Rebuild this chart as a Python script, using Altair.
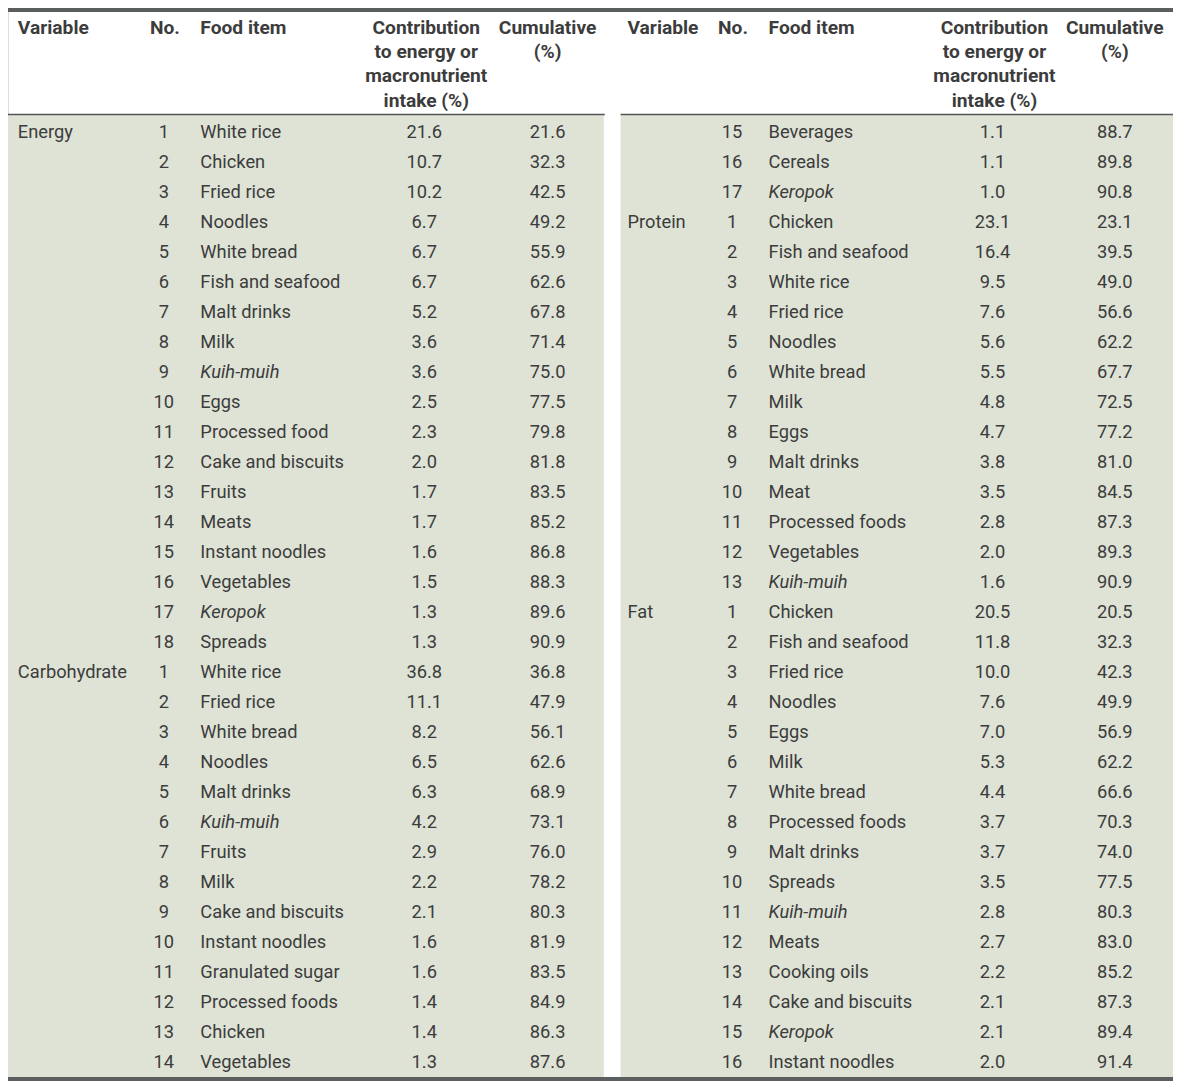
import altair as alt
import pandas as pd

# ---------------- data ----------------
left_var = ["Energy"] + [""] * 17 + ["Carbohydrate"] + [""] * 13
left_no = list(range(1, 19)) + list(range(1, 15))
left_food = ["White rice", "Chicken", "Fried rice", "Noodles", "White bread", "Fish and seafood",
             "Malt drinks", "Milk", "Kuih-muih", "Eggs", "Processed food", "Cake and biscuits",
             "Fruits", "Meats", "Instant noodles", "Vegetables", "Keropok", "Spreads",
             "White rice", "Fried rice", "White bread", "Noodles", "Malt drinks", "Kuih-muih",
             "Fruits", "Milk", "Cake and biscuits", "Instant noodles", "Granulated sugar",
             "Processed foods", "Chicken", "Vegetables"]
left_contrib = ["21.6", "10.7", "10.2", "6.7", "6.7", "6.7", "5.2", "3.6", "3.6", "2.5", "2.3", "2.0",
                "1.7", "1.7", "1.6", "1.5", "1.3", "1.3",
                "36.8", "11.1", "8.2", "6.5", "6.3", "4.2", "2.9", "2.2", "2.1", "1.6", "1.6", "1.4",
                "1.4", "1.3"]
left_cum = ["21.6", "32.3", "42.5", "49.2", "55.9", "62.6", "67.8", "71.4", "75.0", "77.5", "79.8",
            "81.8", "83.5", "85.2", "86.8", "88.3", "89.6", "90.9",
            "36.8", "47.9", "56.1", "62.6", "68.9", "73.1", "76.0", "78.2", "80.3", "81.9", "83.5",
            "84.9", "86.3", "87.6"]

right_var = [""] * 3 + ["Protein"] + [""] * 12 + ["Fat"] + [""] * 15
right_no = [15, 16, 17] + list(range(1, 14)) + list(range(1, 17))
right_food = ["Beverages", "Cereals", "Keropok",
              "Chicken", "Fish and seafood", "White rice", "Fried rice", "Noodles", "White bread",
              "Milk", "Eggs", "Malt drinks", "Meat", "Processed foods", "Vegetables", "Kuih-muih",
              "Chicken", "Fish and seafood", "Fried rice", "Noodles", "Eggs", "Milk", "White bread",
              "Processed foods", "Malt drinks", "Spreads", "Kuih-muih", "Meats", "Cooking oils",
              "Cake and biscuits", "Keropok", "Instant noodles"]
right_contrib = ["1.1", "1.1", "1.0",
                 "23.1", "16.4", "9.5", "7.6", "5.6", "5.5", "4.8", "4.7", "3.8", "3.5", "2.8", "2.0", "1.6",
                 "20.5", "11.8", "10.0", "7.6", "7.0", "5.3", "4.4", "3.7", "3.7", "3.5", "2.8", "2.7",
                 "2.2", "2.1", "2.1", "2.0"]
right_cum = ["88.7", "89.8", "90.8",
             "23.1", "39.5", "49.0", "56.6", "62.2", "67.7", "72.5", "77.2", "81.0", "84.5", "87.3",
             "89.3", "90.9",
             "20.5", "32.3", "42.3", "49.9", "56.9", "62.2", "66.6", "70.3", "74.0", "77.5", "80.3",
             "83.0", "85.2", "87.3", "89.4", "91.4"]

italic_items = ["Kuih-muih", "Keropok"]

header_left = ["Variable", "Food item"]
header_contrib = ["Contribution", "to energy or", "macronutrient", "intake (%)"]
header_cum = ["Cumulative", "(%)"]
header_no = ["No."]

# ---------------- layout (reference pixel frame) ----------------
W_REF, H_REF = 1181, 1089
W, H = 1165, 1073
COLS = {
    "L": dict(var=10, no=158, food=195, contrib=422, cum=547, x0=0, x1=604, r1=605),
    "R": dict(var=628, no=734, food=771, contrib=998, cum=1122, x0=621, x1=1181, r1=1181),
}
ROW0, ROW_H = 127, 30.45
HEAD0, HEAD_H = 20.5, 24.5
BODY_TOP, BODY_BOT = 108, 1085

TXT = "#3c3c3c"
BG = "#dee3d6"
DARK = "#5a5e5e"
FONT = "Roboto"
FS = 18.3
FS_HEAD = 19.2

rows = []
for panel, vv, nn, ff, cc, uu in [("L", left_var, left_no, left_food, left_contrib, left_cum),
                                  ("R", right_var, right_no, right_food, right_contrib, right_cum)]:
    c = COLS[panel]
    for i in range(len(ff)):
        rows.append(dict(panel=panel, y=ROW0 + i * ROW_H, variable=vv[i], no=str(nn[i]), food=ff[i],
                         contrib=cc[i], cum=uu[i], italic=ff[i] in italic_items,
                         xvar=c["var"], xno=c["no"], xfood=c["food"], xcon=c["contrib"], xcum=c["cum"]))
body = pd.DataFrame(rows)

head_rows_left, head_rows_center = [], []
for panel in ["L", "R"]:
    c = COLS[panel]
    head_rows_left.append(dict(x=c["var"], y=HEAD0, t=header_left[0]))
    head_rows_left.append(dict(x=c["food"], y=HEAD0, t=header_left[1]))
    head_rows_center.append(dict(x=c["no"] + 1, y=HEAD0, t=header_no[0]))
    for k, t in enumerate(header_contrib):
        head_rows_center.append(dict(x=c["contrib"] + 2, y=HEAD0 + k * HEAD_H, t=t))
    for k, t in enumerate(header_cum):
        head_rows_center.append(dict(x=c["cum"], y=HEAD0 + k * HEAD_H, t=t))
head_left = pd.DataFrame(head_rows_left)
head_center = pd.DataFrame(head_rows_center)

bg = pd.DataFrame([dict(x=COLS[p]["x0"], x2=COLS[p]["x1"], y=BODY_TOP, y2=BODY_BOT) for p in ["L", "R"]])
bars = pd.DataFrame([dict(x=0, x2=W_REF, y=0, y2=4), dict(x=0, x2=W_REF, y=BODY_BOT, y2=H_REF)])
rules = pd.DataFrame([dict(x=COLS[p]["x0"], x2=COLS[p]["r1"], y=BODY_TOP) for p in ["L", "R"]])

xs = alt.Scale(domain=[0, W_REF], range=[0, W], nice=False, zero=False)
ys = alt.Scale(domain=[0, H_REF], range=[0, H], nice=False, zero=False)


def X(f):
    return alt.X(f, type="quantitative", scale=xs, axis=None)


def Y(f):
    return alt.Y(f, type="quantitative", scale=ys, axis=None)


bg_layer = alt.Chart(bg).mark_rect(color=BG).encode(x=X("x"), x2="x2", y=Y("y"), y2="y2")
bar_layer = alt.Chart(bars).mark_rect(color=DARK).encode(x=X("x"), x2="x2", y=Y("y"), y2="y2")
rule_layer = alt.Chart(rules).mark_rule(color="#555", strokeWidth=1.5).encode(x=X("x"), x2="x2", y=Y("y"))

hl = alt.Chart(head_left).mark_text(align="left", baseline="middle", font=FONT, fontSize=FS_HEAD,
                                    fontWeight="bold", color=TXT).encode(x=X("x"), y=Y("y"), text="t")
hc = alt.Chart(head_center).mark_text(align="center", baseline="middle", font=FONT, fontSize=FS_HEAD,
                                      fontWeight="bold", color=TXT).encode(x=X("x"), y=Y("y"), text="t")


def body_text(xf, tf, align, data=body, style="normal"):
    return alt.Chart(data).mark_text(align=align, baseline="middle", font=FONT, fontSize=FS,
                                     fontStyle=style, color=TXT).encode(x=X(xf), y=Y("y"), text=tf)


t_var = body_text("xvar", "variable", "left")
t_no = body_text("xno", "no", "center")
t_food = body_text("xfood", "food", "left", body[~body["italic"]])
t_food_it = body_text("xfood", "food", "left", body[body["italic"]], "italic")
t_con = body_text("xcon", "contrib", "center")
t_cum = body_text("xcum", "cum", "center")

chart = alt.layer(bg_layer, bar_layer, rule_layer, hl, hc, t_var, t_no, t_food, t_food_it, t_con, t_cum).properties(
    width=W, height=H, padding=0, autosize=alt.AutoSizeParams(type="none")
).configure_view(stroke=None).configure(background="white")

chart.save("out.html", embed_options={"renderer": "svg", "actions": False})
